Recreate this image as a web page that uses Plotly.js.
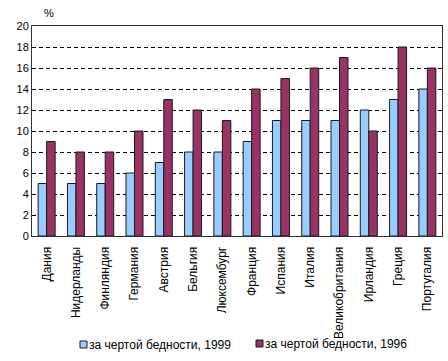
<!DOCTYPE html>
<html>
<head>
<meta charset="utf-8">
<script src="https://cdn.plot.ly/plotly-3.0.1.min.js"></script>
<style>html,body{margin:0;padding:0;background:#fff;}#chart{width:448px;height:361px;}</style>
</head>
<body>
<div id="chart"></div>
<script>
const countries = ["Дания","Нидерланды","Финляндия","Германия","Австрия","Бельгия","Люксембург","Франция","Испания","Италия","Великобритания","Ирландия","Греция","Португалия"];
const values1999 = [5,5,5,6,7,8,8,9,11,11,11,12,13,14];
const values1996 = [9,8,8,10,13,12,11,14,15,16,17,10,18,16];
const seriesNames = ["за чертой бедности, 1999","за чертой бедности, 1996"];
const seriesColors = ["#99CCFF","#993366"];
const yTicks = [0,2,4,6,8,10,12,14,16,18,20];

const W = 448, H = 361;
const M = {l: 32, r: 6, t: 26, b: 125};
const PW = W - M.l - M.r, PH = H - M.t - M.b;
const px = v => (v - M.l) / PW;          // pixel -> paper x
const py = v => (H - M.b - v) / PH;      // pixel -> paper y

const fam = "Liberation Sans, Arial, sans-serif";
const traces = seriesNames.map((n, i) => ({
  type: "bar", x: countries, y: i === 0 ? values1999 : values1996, name: n,
  marker: {color: seriesColors[i], line: {color: "#1a1a1a", width: 1}}
}));

// custom legend (small square + text), as in the original
const legendPos = [{sx: 80, sy: 341, tx: 88}, {sx: 256, sy: 340, tx: 264}];
const shapes = legendPos.map((p, i) => ({
  type: "rect", xref: "paper", yref: "paper",
  x0: px(p.sx), x1: px(p.sx + 7), y0: py(p.sy + 7), y1: py(p.sy),
  fillcolor: seriesColors[i], line: {color: "#1a1a1a", width: 1}
}));
const annotations = legendPos.map((p, i) => ({
  text: seriesNames[i], xref: "paper", yref: "paper",
  x: px(p.tx), y: py(p.sy + 3.5), xanchor: "left", yanchor: "middle",
  showarrow: false, borderpad: 0, font: {family: fam, size: 12, color: "#000"}
}));
annotations.push({text: "%", xref: "paper", yref: "paper", x: px(49), y: py(13),
  xanchor: "center", yanchor: "middle", showarrow: false, borderpad: 0,
  font: {family: fam, size: 11, color: "#000"}});

const layout = {
  width: W, height: H, margin: M,
  paper_bgcolor: "#fff", plot_bgcolor: "#fff",
  font: {family: fam, size: 11, color: "#000"},
  barmode: "group", bargap: 0.42, bargroupgap: 0,
  showlegend: false,
  xaxis: {type: "category", tickangle: -90, showgrid: false, showline: true, automargin: false,
          linecolor: "#333", linewidth: 1, mirror: true, ticks: "", tickfont: {size: 12},
          ticklabelstandoff: 5},
  yaxis: {range: [0, 20], tickvals: yTicks, showgrid: true, gridcolor: "#000", automargin: false,
          griddash: "4px,3px", gridwidth: 1, showline: true, linecolor: "#333",
          linewidth: 1, mirror: true, ticks: "", zeroline: false, tickfont: {size: 11}},
  shapes: shapes,
  annotations: annotations
};
Plotly.newPlot("chart", traces, layout, {displayModeBar: false, staticPlot: true});
</script>
</body>
</html>
